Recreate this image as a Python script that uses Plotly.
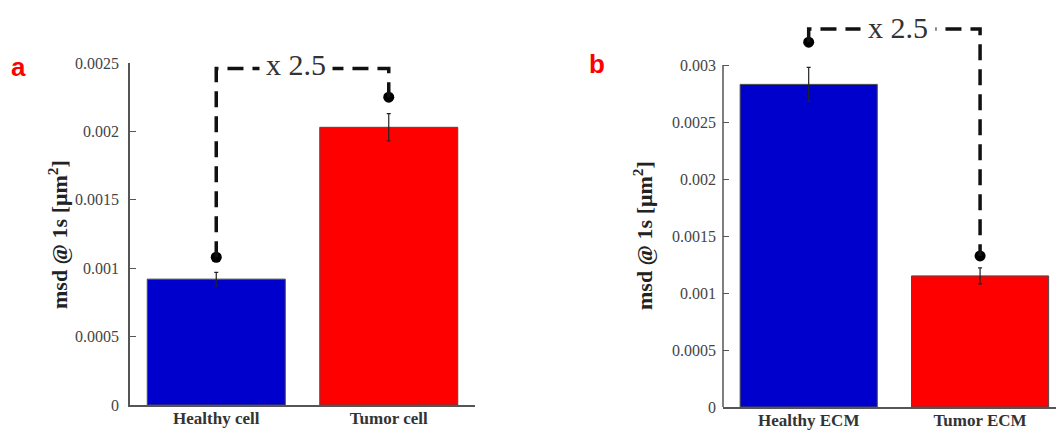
import plotly.graph_objects as go

# Panel a: mean-square displacement at 1 s, cells
cell_labels = ["Healthy cell", "Tumor cell"]
cell_msd = [0.00092, 0.00203]
cell_err = [0.00005, 0.0001]
cell_dots = [0.00108, 0.00225]
cell_bracket = 0.00246
cell_ticks = [0, 0.0005, 0.001, 0.0015, 0.002, 0.0025]
cell_ticktext = ["0", "0.0005", "0.001", "0.0015", "0.002", "0.0025"]

# Panel b: mean-square displacement at 1 s, extracellular matrix
ecm_labels = ["Healthy ECM", "Tumor ECM"]
ecm_msd = [0.00283, 0.00115]
ecm_err = [0.00015, 0.00007]
ecm_dots = [0.0032, 0.001325]
ecm_bracket = 0.003316
ecm_ticks = [0, 0.0005, 0.001, 0.0015, 0.002, 0.0025, 0.003]
ecm_ticktext = ["0", "0.0005", "0.001", "0.0015", "0.002", "0.0025", "0.003"]

fold_text = "x 2.5"
bar_colors = ["#0000CC", "#FF0000"]

W, H = 1056, 433
SERIF = "Liberation Serif, Times New Roman, serif"
SANS = "Liberation Sans, Arial, sans-serif"
AXIS_COLOR = "#555555"

# subplot geometry (paper fractions)
xa_dom = [130 / W, 475 / W]
ya_dom = [(H - 405) / H, (H - 63) / H]
ya_rng = [0, 0.0025]
xb_dom = [723 / W, 1.0]
yb_rng = [0, 0.00345]
yb_dom = [(H - 407) / H, (H - 407 + 342 * yb_rng[1] / 0.003) / H]


def paper_y(v, dom, rng):
    return dom[0] + (v - rng[0]) / (rng[1] - rng[0]) * (dom[1] - dom[0])


fig = go.Figure()

for xs, ys, errs, dots, xa, ya in [
    ([0, 1], cell_msd, cell_err, cell_dots, "x", "y"),
    ([0, 1], ecm_msd, ecm_err, ecm_dots, "x2", "y2"),
]:
    fig.add_trace(go.Bar(
        x=xs, y=ys, width=0.8,
        marker=dict(color=bar_colors, line=dict(color="#4a4a4a", width=1)),
        error_y=dict(type="data", array=errs, color="#222222", thickness=1.2, width=2),
        xaxis=xa, yaxis=ya, showlegend=False,
    ))
    fig.add_trace(go.Scatter(
        x=xs, y=dots, mode="markers",
        marker=dict(color="#000000", size=11),
        xaxis=xa, yaxis=ya, showlegend=False, cliponaxis=False,
    ))

# dashed brackets linking the two dots of each panel
for dots, top, xr, yr in [(cell_dots, cell_bracket, "x", "y"),
                          (ecm_dots, ecm_bracket, "x2", "y2")]:
    fig.add_shape(
        type="path", xref=xr, yref=yr,
        path=f"M 0,{dots[0]} L 0,{top} L 1,{top} L 1,{dots[1]}",
        line=dict(color="#111111", width=3.5, dash="16px,9px"),
    )

# y axis line of panel b only up to its last tick
fig.add_shape(
    type="line", xref="paper", yref="paper",
    x0=xb_dom[0], x1=xb_dom[0],
    y0=paper_y(0, yb_dom, yb_rng), y1=paper_y(ecm_ticks[-1], yb_dom, yb_rng),
    line=dict(color=AXIS_COLOR, width=1.5),
)

fold_font = dict(family=SERIF, size=30, color="#333333")
fig.add_annotation(x=0.46, y=cell_bracket, xref="x", yref="y", text=fold_text,
                   showarrow=False, font=fold_font, bgcolor="white",
                   borderpad=6, yanchor="middle", yshift=4)
fig.add_annotation(x=0.52, y=ecm_bracket, xref="x2", yref="y2", text=fold_text,
                   showarrow=False, font=fold_font, bgcolor="white",
                   borderpad=7, yanchor="middle", yshift=1)

ytitle = "<b>msd @ 1s [μm<sup>2</sup>]</b>"
title_font = dict(family=SERIF, size=22, color="#222222")
fig.add_annotation(x=58 / W, y=(H - 235) / H, xref="paper", yref="paper",
                   text=ytitle, textangle=-90, showarrow=False, font=title_font,
                   xanchor="center", yanchor="middle")
fig.add_annotation(x=643 / W, y=(H - 236) / H, xref="paper", yref="paper",
                   text=ytitle, textangle=-90, showarrow=False, font=title_font,
                   xanchor="center", yanchor="middle")

panel_font = dict(family=SANS, size=26, color="#FF0000", weight="bold")
fig.add_annotation(x=18 / W, y=(H - 67) / H, xref="paper", yref="paper", text="a",
                   showarrow=False, font=panel_font, xanchor="center", yanchor="middle")
fig.add_annotation(x=597 / W, y=(H - 64) / H, xref="paper", yref="paper", text="b",
                   showarrow=False, font=panel_font, xanchor="center", yanchor="middle")

tick_font = dict(family=SERIF, size=16, color="#444444")
cat_font = dict(family=SERIF, size=17, color="#333333", weight="bold")

common_x = dict(showline=True, linecolor=AXIS_COLOR, linewidth=1.5, ticks="",
                showgrid=False, zeroline=False, tickfont=cat_font,
                automargin=False, ticklabelstandoff=-3)
common_y = dict(ticks="inside", ticklen=6, tickwidth=1.2, tickcolor=AXIS_COLOR,
                showgrid=False, zeroline=False, tickfont=tick_font,
                ticklabelstandoff=6, automargin=False)

fig.update_layout(
    width=W, height=H,
    margin=dict(l=0, r=0, t=0, b=0, autoexpand=False),
    paper_bgcolor="white", plot_bgcolor="white",
    bargap=0.2,
    xaxis=dict(domain=xa_dom, range=[-0.5, 1.5], tickvals=[0, 1],
               ticktext=cell_labels, anchor="y", **common_x),
    yaxis=dict(domain=ya_dom, range=ya_rng, tickvals=cell_ticks,
               ticktext=cell_ticktext, anchor="x", showline=True,
               linecolor=AXIS_COLOR, linewidth=1.5, **common_y),
    xaxis2=dict(domain=xb_dom, range=[-0.5, 1.443], tickvals=[0, 1],
                ticktext=ecm_labels, anchor="y2", **common_x),
    yaxis2=dict(domain=yb_dom, range=yb_rng, tickvals=ecm_ticks,
                ticktext=ecm_ticktext, anchor="x2", showline=False, **common_y),
)

fig.write_html("out.html")
